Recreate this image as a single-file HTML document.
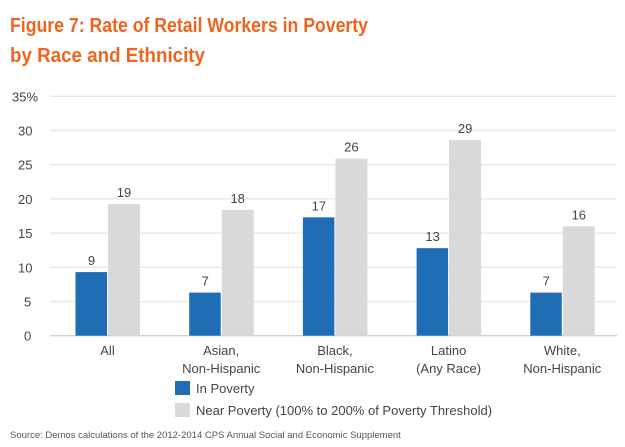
<!DOCTYPE html>
<html><head><meta charset="utf-8"><style>
body{margin:0;background:#fff;}
svg{display:block;font-family:"Liberation Sans",sans-serif;}
</style></head><body>
<svg width="625" height="447" viewBox="0 0 625 447">
<text x="10" y="32" font-size="20" font-weight="bold" fill="#f0641e" textLength="358" lengthAdjust="spacingAndGlyphs">Figure 7: Rate of Retail Workers in Poverty</text>
<text x="10" y="62" font-size="20" font-weight="bold" fill="#f0641e" textLength="195" lengthAdjust="spacingAndGlyphs">by Race and Ethnicity</text>
<g id="grid"></g><g id="bars"></g><g id="labels"></g>
<rect x="175" y="381" width="15" height="14" fill="#1f6db5"/>
<text x="196" y="393" font-size="13" fill="#444">In Poverty</text>
<rect x="175" y="403" width="15" height="14" fill="#d9d9db"/>
<text x="196" y="415" font-size="13" fill="#444">Near Poverty (100% to 200% of Poverty Threshold)</text>
<text x="10" y="438" font-size="9.5" fill="#555">Source: Demos calculations of the 2012-2014 CPS Annual Social and Economic Supplement</text>
</svg>
<script>
const categories=[["All"],["Asian,","Non-Hispanic"],["Black,","Non-Hispanic"],["Latino","(Any Race)"],["White,","Non-Hispanic"]];
const inPoverty=[9.3,6.3,17.3,12.8,6.3];
const nearPoverty=[19.25,18.4,25.9,28.6,16.0];
const inLabels=["9","7","17","13","7"];
const nearLabels=["19","18","26","29","16"];
const yTicks=[0,5,10,15,20,25,30,35];
const NS="http://www.w3.org/2000/svg";
const y=v=>335.7-v*6.84;
const cx=i=>107.5+i*113.7;
function mk(tag,attrs,parent,text){const e=document.createElementNS(NS,tag);for(const k in attrs)e.setAttribute(k,attrs[k]);if(text!==undefined)e.textContent=text;document.getElementById(parent).appendChild(e);return e;}
yTicks.forEach(t=>{
 const l=mk('line',{x1:50,x2:617,y1:y(t),y2:y(t),stroke:t===0?'#cfcfcf':'#e6e6e6','stroke-width':1.3},'grid');
 
 
 const tx=mk('text',{x:t===35?12:(t>=10?18:24),y:y(t)+5,'font-size':13,fill:'#444'},'grid',t===35?'35%':String(t));
 
 
});
categories.forEach((c,i)=>{
 const b=mk('rect',{x:cx(i)-32,y:y(inPoverty[i]),width:31.5,height:y(0)-y(inPoverty[i]),fill:'#1f6db5'},'bars');
 
 
 const g=mk('rect',{x:cx(i)+0.5,y:y(nearPoverty[i]),width:32,height:y(0)-y(nearPoverty[i]),fill:'#d9d9db'},'bars');
 
 
 const a=mk('text',{x:cx(i)-16,y:y(inPoverty[i])-7,'font-size':13,fill:'#444','text-anchor':'middle'},'labels',inLabels[i]);
 
 
 const n=mk('text',{x:cx(i)+16.5,y:y(nearPoverty[i])-7,'font-size':13,fill:'#444','text-anchor':'middle'},'labels',nearLabels[i]);
 
 
 c.forEach((ln,j)=>{
  const t=mk('text',{x:cx(i),y:355+j*18,'font-size':13,fill:'#444','text-anchor':'middle'},'labels',ln);
  
  
 });
});
</script>
</body></html>
